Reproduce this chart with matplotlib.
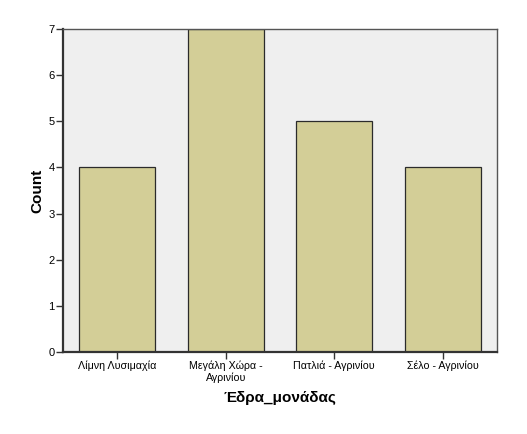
import matplotlib
matplotlib.use("Agg")
import matplotlib.pyplot as plt
import numpy as np

categories = ["Λίμνη Λυσιμαχία", "Μεγάλη Χώρα -\nΑγρινίου", "Πατλιά - Αγρινίου", "Σέλο - Αγρινίου"]
counts = [4, 7, 5, 4]
y_ticks = [0, 1, 2, 3, 4, 5, 6, 7]

plt.rcParams['font.family'] = ['Liberation Sans', 'DejaVu Sans']

fig = plt.figure(figsize=(5.27, 4.34), dpi=100)
ax = fig.add_axes([63 / 527, 82 / 434, 434 / 527, 323 / 434])
ax.set_facecolor('#EFEFEF')

x = np.arange(len(categories))
ax.bar(x, counts, width=0.7, color='#D3CE97', edgecolor='#2b2b2b', linewidth=0.9, zorder=2)

ax.set_xlim(-0.5, len(categories) - 0.5)
ax.set_ylim(0, 7)
ax.set_yticks(y_ticks)
ax.set_yticklabels([str(v) for v in y_ticks], fontsize=8)
ax.set_xticks(x)
ax.set_xticklabels(categories, fontsize=7.7, linespacing=1.15)
ax.tick_params(axis='both', length=5, width=1, color='#333333', pad=1)

for side in ['left', 'bottom']:
    ax.spines[side].set_color('#333333')
    ax.spines[side].set_linewidth(1.6)
for side in ['top', 'right']:
    ax.spines[side].set_color('#555555')
    ax.spines[side].set_linewidth(1.0)

ax.set_xlabel("Έδρα_μονάδας", fontsize=11, fontweight='bold', labelpad=6)
ax.set_ylabel("Count", fontsize=11, fontweight='bold', labelpad=3)

fig.savefig("out.png", dpi=100)
